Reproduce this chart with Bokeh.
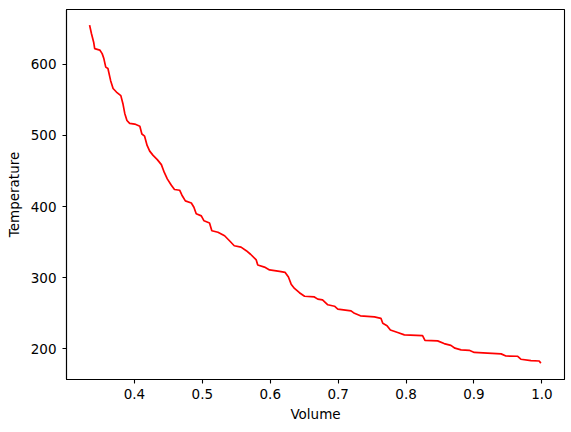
from bokeh.plotting import figure
from bokeh.models import FixedTicker, Range1d
from bokeh.embed import file_html
from bokeh.resources import INLINE

volume = [0.334, 0.3368, 0.340, 0.3415, 0.349, 0.3525, 0.355, 0.3578, 0.361, 0.365,
          0.3686, 0.3735, 0.380, 0.383, 0.3858, 0.389, 0.393, 0.4005, 0.408, 0.411,
          0.415, 0.4187, 0.4225, 0.4275, 0.4337, 0.4397, 0.444, 0.4484, 0.4544, 0.459,
          0.4666, 0.470, 0.475, 0.4838, 0.4876, 0.491, 0.4985, 0.5025, 0.5106, 0.514,
          0.523, 0.5328, 0.540, 0.547, 0.557, 0.5647, 0.571, 0.5794, 0.5816, 0.5915,
          0.599, 0.6137, 0.622, 0.6268, 0.6308, 0.6357, 0.643, 0.6505, 0.665, 0.670,
          0.677, 0.6848, 0.6946, 0.6995, 0.719, 0.724, 0.7328, 0.7534, 0.763, 0.7657,
          0.772, 0.7769, 0.7877, 0.7975, 0.8243, 0.8278, 0.8465, 0.856, 0.866, 0.872,
          0.881, 0.893, 0.9005, 0.92, 0.94, 0.947, 0.964, 0.969, 0.984, 0.996, 0.9985]
temperature = [655, 643, 631, 622, 620, 615, 608, 596, 594, 577,
               566, 561, 556, 545, 531, 521, 517, 516, 513, 502,
               499, 486, 478, 472, 466, 459, 448, 439, 430, 424,
               423, 416, 408, 405, 399, 390, 387, 380, 377, 366,
               364, 359, 352, 345, 343, 338, 333, 325, 318, 315,
               311, 309, 307.5, 301, 291, 285, 279, 274, 273, 270,
               269, 262, 260, 256, 253.5, 250, 246.5, 245, 243, 236,
               232.6, 226.5, 223, 219.7, 218.7, 212, 211.3, 207.5, 205, 201,
               198.6, 198, 195, 194, 193, 190, 189.7, 185.5, 183.6, 183, 180]

x_ticks = [0.4, 0.5, 0.6, 0.7, 0.8, 0.9, 1.0]
x_tick_labels = ["0.4", "0.5", "0.6", "0.7", "0.8", "0.9", "1.0"]
y_ticks = [200, 300, 400, 500, 600]
y_tick_labels = ["200", "300", "400", "500", "600"]

p = figure(width=566, height=424, output_backend="svg", toolbar_location=None,
           x_range=Range1d(0.3, 1.0333), y_range=Range1d(157, 677),
           min_border_left=66, min_border_right=2, min_border_top=9, min_border_bottom=45)

p.line(volume, temperature, line_color="red", line_width=1.7)

p.grid.visible = False
p.outline_line_color = "black"
p.outline_line_width = 1.1

FONT = "DejaVu Sans"
for ax in (p.xaxis[0], p.yaxis[0]):
    ax.axis_line_color = "black"
    ax.axis_line_width = 1.1
    ax.major_tick_line_color = "black"
    ax.major_tick_line_width = 1.1
    ax.major_tick_in = 0
    ax.major_tick_out = 4
    ax.minor_tick_line_color = None
    ax.major_label_text_font = FONT
    ax.major_label_text_font_size = "13.5px"
    ax.major_label_text_color = "black"
    ax.axis_label_text_font = FONT
    ax.axis_label_text_font_size = "13.5px"
    ax.axis_label_text_font_style = "normal"
    ax.axis_label_text_color = "black"

p.xaxis[0].ticker = FixedTicker(ticks=x_ticks)
p.xaxis[0].major_label_overrides = dict(zip(x_ticks, x_tick_labels))
p.xaxis[0].axis_label = "Volume"
p.xaxis[0].major_label_standoff = 5
p.xaxis[0].axis_label_standoff = 4

p.yaxis[0].ticker = FixedTicker(ticks=y_ticks)
p.yaxis[0].major_label_overrides = dict(zip(y_ticks, y_tick_labels))
p.yaxis[0].axis_label = "Temperature"
p.yaxis[0].major_label_standoff = 6
p.yaxis[0].axis_label_standoff = 6

open("out.html", "w").write(file_html(p, INLINE))
